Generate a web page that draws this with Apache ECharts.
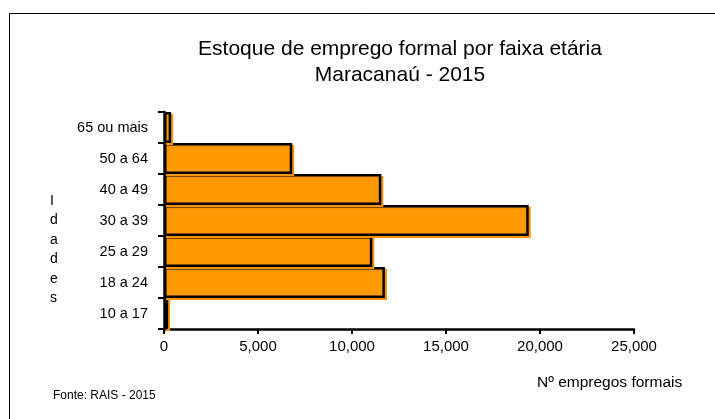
<!DOCTYPE html>
<html>
<head>
<meta charset="utf-8">
<script src="https://cdn.jsdelivr.net/npm/echarts@6/dist/echarts.min.js"></script>
<style>
  html, body { margin: 0; padding: 0; background: #fff; }
  #chart { width: 715px; height: 419px; }
</style>
</head>
<body>
<div id="chart"></div>
<script>
// faixas etárias (de baixo para cima)
const idades = ['10 a 17', '18 a 24', '25 a 29', '30 a 39', '40 a 49', '50 a 64', '65 ou mais']
const empregos = [220, 11750, 11080, 19400, 11560, 6820, 380]
const xTicks = [0, 5000, 10000, 15000, 20000, 25000]

const fmt = (v) => String(v).replace(/\B(?=(\d{3})+(?!\d))/g, ',')
const font = 'Liberation Sans, Arial, sans-serif'

const chart = echarts.init(document.getElementById('chart'))

const option = {
  backgroundColor: '#fff',
  animation: false,
  textStyle: { fontFamily: font },
  title: {
    text: 'Estoque de emprego formal por faixa etária\nMaracanaú - 2015',
    left: 395,
    top: 31,
    textAlign: 'center',
    textStyle: { fontSize: 21, fontWeight: 'normal', color: '#000', lineHeight: 26 }
  },
  graphic: [
    {
      type: 'rect',
      shape: { x: 9.5, y: 13.5, width: 720, height: 430 },
      style: { fill: 'none', stroke: '#000', lineWidth: 1 }
    },
    {
      type: 'text',
      left: 50,
      top: 191,
      style: {
        text: 'I\nd\na\nd\ne\ns',
        fontSize: 14,
        lineHeight: 19.5,
        fill: '#000',
        align: 'center',
        fontFamily: font
      }
    },
    {
      type: 'text',
      left: 53,
      top: 390,
      style: { text: 'Fonte: RAIS - 2015', fontSize: 12, fill: '#000', fontFamily: font }
    },
    {
      type: 'text',
      left: 537,
      top: 375,
      style: { text: 'Nº empregos formais', fontSize: 15.5, fill: '#000', fontFamily: font }
    }
  ],
  grid: { left: 164, top: 112, width: 470, height: 217, containLabel: false },
  xAxis: {
    type: 'value',
    min: 0,
    max: 25000,
    interval: 5000,
    axisLine: { show: true, lineStyle: { color: '#000', width: 2.5 } },
    axisTick: { show: true, length: 5, lineStyle: { color: '#000', width: 2 } },
    splitLine: { show: false },
    axisLabel: {
      color: '#000',
      fontSize: 15,
      margin: 10,
      formatter: (v) => xTicks.includes(v) ? fmt(v) : ''
    }
  },
  yAxis: {
    type: 'category',
    data: idades,
    axisLine: { show: true, lineStyle: { color: '#000', width: 2.5 } },
    axisTick: { show: true, length: 6, lineStyle: { color: '#000', width: 2 } },
    axisLabel: { color: '#000', fontSize: 14.5, margin: 16 }
  },
  series: [
    {
      type: 'bar',
      data: empregos,
      barWidth: '100%',
      barCategoryGap: 0,
      itemStyle: {
        color: '#ff9900',
        borderColor: '#000',
        borderWidth: 2.5,
        shadowColor: '#f59300',
        shadowOffsetX: 2,
        shadowOffsetY: 2,
        shadowBlur: 0
      }
    }
  ]
}

chart.setOption(option)
</script>
</body>
</html>
